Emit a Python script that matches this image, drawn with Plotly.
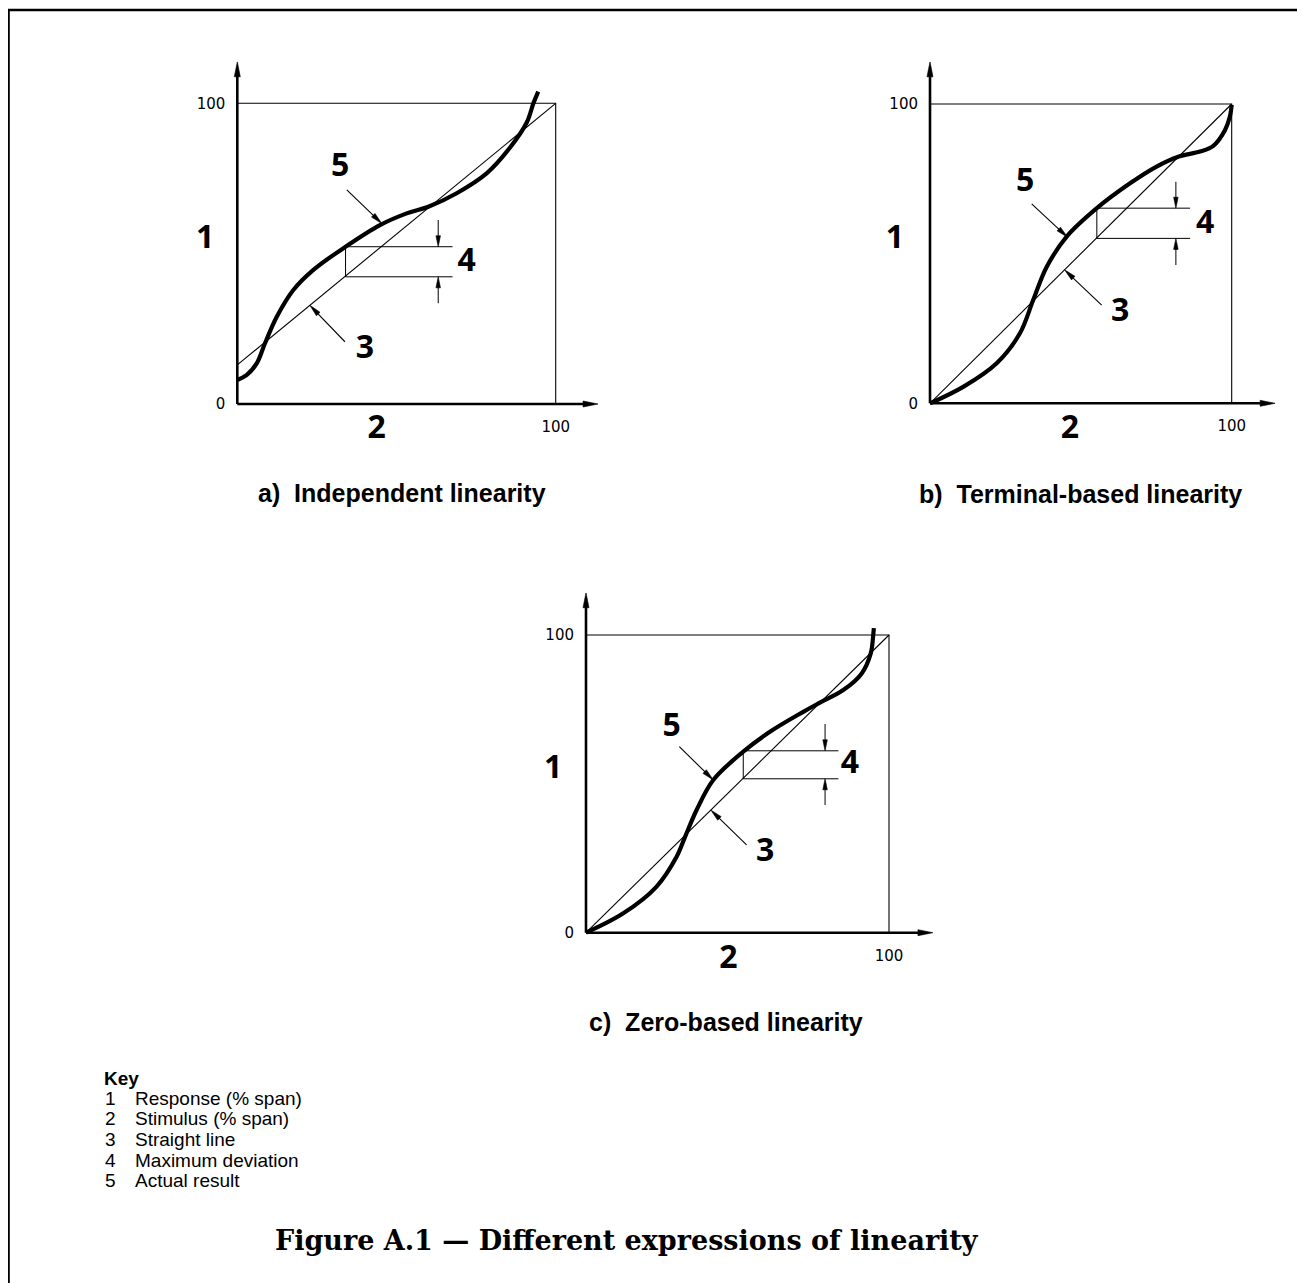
import math
import plotly.graph_objects as go

W, H = 1305, 1283      # reference picture size
OFF = 8                # browser body margin of the page
FW, FH = W - OFF, H - OFF

# ---------------- data ----------------
label_text = ["1", "2", "3", "4", "5"]
y_tick_vals = [0, 100]
y_tick_text = ["0", "100"]
x_tick_vals = [100]
x_tick_text = ["100"]

box_x = [0, 100, 100]
box_y = [100, 100, 0]

# panel a) Independent linearity
a_line_x = [0, 100]
a_line_y = [13, 100]
a_curve_x = [0, 2.9, 6.1, 8.7, 12.4, 17.6, 23.9, 34.0, 44.8, 53.2, 60.0, 68.9, 78.3, 85.6, 90.9, 93.0, 94.5]
a_curve_y = [8.0, 9.6, 13.5, 20.2, 29.0, 37.9, 44.6, 52.3, 59.5, 63.4, 65.6, 70.1, 76.7, 85.2, 93.6, 100, 103.9]
a_dev_x = [67.6, 34.0, 34.0, 67.6]
a_dev_y = [52.3, 52.3, 42.3, 42.3]
a_dim_x = [63.1, 63.1, 63.1, 63.1]
a_dim_y = [61.2, 52.3, 33.5, 42.3]
a_lead_x = [34.4, 45.4, 33.8, 22.8]
a_lead_y = [71.2, 60.0, 20.7, 32.8]
a_label_x = [-10.1, 43.8, 40.1, 72.0, 32.3]
a_label_y = [54.5, -8.6, 18.0, 46.8, 78.4]

# panel b) Terminal-based linearity
b_line_x = [0, 100]
b_line_y = [0, 100]
b_curve_x = [0, 11.0, 22.1, 29.8, 34.2, 38.7, 45.3, 55.3, 66.3, 75.1, 82.3, 89.5, 93.9, 97.8, 99.4, 100]
b_curve_y = [0, 5.5, 13.4, 23.4, 34.5, 45.6, 55.7, 65.2, 73.5, 79.1, 82.4, 84.1, 86.0, 91.3, 95.8, 99.7]
b_dev_x = [86.2, 55.3, 55.3, 86.2]
b_dev_y = [65.2, 65.2, 55.1, 55.1]
b_dim_x = [81.5, 81.5, 81.5, 81.5]
b_dim_y = [74.0, 65.2, 46.2, 55.1]
b_lead_x = [33.7, 45.6, 56.9, 44.6]
b_lead_y = [66.6, 55.5, 32.8, 44.6]
b_label_x = [-11.6, 46.4, 63.0, 91.2, 31.5]
b_label_y = [54.6, -8.9, 30.1, 59.6, 73.5]

# panel c) Zero-based linearity
c_line_x = [0, 100]
c_line_y = [0, 100]
c_curve_x = [0, 12.3, 23.3, 29.9, 32.7, 36.5, 42.0, 51.9, 60.7, 71.7, 77.2, 84.9, 91.0, 94.0, 94.8, 95.0]
c_curve_y = [0, 6.5, 15.5, 25.5, 32.2, 41.2, 51.3, 60.8, 67.5, 74.2, 77.3, 81.5, 87.1, 93.9, 100, 102.3]
c_dev_x = [83.3, 51.9, 51.9, 83.3]
c_dev_y = [61.1, 61.1, 51.7, 51.7]
c_dim_x = [78.9, 78.9, 78.9, 78.9]
c_dim_y = [70.1, 61.1, 42.9, 51.7]
c_lead_x = [30.8, 42.0, 53.0, 41.2]
c_lead_y = [62.5, 51.3, 29.5, 41.2]
c_label_x = [-10.8, 47.0, 59.1, 87.1, 28.3]
c_label_y = [54.7, -9.2, 26.7, 56.3, 68.7]

titles = ["a)\u00a0 Independent linearity", "b)\u00a0 Terminal-based linearity", "c)\u00a0 Zero-based linearity"]
key_title = "Key"
key_nums = ["1", "2", "3", "4", "5"]
key_texts = ["Response (% span)", "Stimulus (% span)", "Straight line", "Maximum deviation", "Actual result"]
caption = "Figure A.1 \u2014 Different expressions of linearity"

# ---------------- layout (pixel anchors in reference picture) ----------------
XMIN, YMIN = -20, -14
panels = [
    dict(ox=237.3, oy=404.0, sx=3.184, sy=3.007, xmax=113.3, ymax=113.8,
         line=(a_line_x, a_line_y), curve=(a_curve_x, a_curve_y), dev=(a_dev_x, a_dev_y),
         dim=(a_dim_x, a_dim_y), lead=(a_lead_x, a_lead_y), lab=(a_label_x, a_label_y),
         title_px=(402, 493)),
    dict(ox=930.0, oy=403.3, sx=3.017, sy=2.993, xmax=114.4, ymax=114.1,
         line=(b_line_x, b_line_y), curve=(b_curve_x, b_curve_y), dev=(b_dev_x, b_dev_y),
         dim=(b_dim_x, b_dim_y), lead=(b_lead_x, b_lead_y), lab=(b_label_x, b_label_y),
         title_px=(1080, 494)),
    dict(ox=586.0, oy=932.7, sx=3.03, sy=2.977, xmax=114.5, ymax=114.2,
         line=(c_line_x, c_line_y), curve=(c_curve_x, c_curve_y), dev=(c_dev_x, c_dev_y),
         dim=(c_dim_x, c_dim_y), lead=(c_lead_x, c_lead_y), lab=(c_label_x, c_label_y),
         title_px=(726, 1022)),
]


def fx(px):
    return (px - OFF) / FW


def fy(py):
    return 1 - (py - OFF) / FH


TICK_FONT = dict(family="DejaVu Sans", size=15, color="black")
BIG_FONT = dict(family="Noto Sans, DejaVu Sans", size=32, color="black", weight="bold")
SANS = "Liberation Sans, Arial, sans-serif"

fig = go.Figure()


def line_trace(x, y, xa, ya, width, shape="linear"):
    fig.add_trace(go.Scatter(x=x, y=y, mode="lines", xaxis=xa, yaxis=ya,
                             line=dict(color="black", width=width, shape=shape, smoothing=1.0),
                             hoverinfo="skip", showlegend=False))


def arrow(p, xa, ya, tail, head, lw, hl, hw):
    tu, tv = tail
    hu, hv = head
    dxp = (hu - tu) * p["sx"]
    dyp = (hv - tv) * p["sy"]
    L = math.hypot(dxp, dyp)
    ux, uy = dxp / L, dyp / L
    bu = hu - ux * hl / p["sx"]
    bv = hv - uy * hl / p["sy"]
    pu = -uy * hw / 2 / p["sx"]
    pv = ux * hw / 2 / p["sy"]
    line_trace([tu, hu - ux * hl * 0.6 / p["sx"]], [tv, hv - uy * hl * 0.6 / p["sy"]], xa, ya, lw)
    fig.add_trace(go.Scatter(x=[hu, bu + pu, bu - pu, hu], y=[hv, bv + pv, bv - pv, hv],
                             mode="lines", fill="toself", fillcolor="black",
                             line=dict(color="black", width=0.6), xaxis=xa, yaxis=ya,
                             hoverinfo="skip", showlegend=False))


layout_axes = {}
annotations = []
for i, p in enumerate(panels):
    n = "" if i == 0 else str(i + 1)
    xa, ya = "x" + n, "y" + n
    xd = [fx(p["ox"] + XMIN * p["sx"]), fx(p["ox"] + p["xmax"] * p["sx"])]
    yd = [fy(p["oy"] - YMIN * p["sy"]), fy(p["oy"] - p["ymax"] * p["sy"])]
    layout_axes["xaxis" + n] = dict(domain=xd, range=[XMIN, p["xmax"]], anchor="free",
                                    position=fy(p["oy"]), tickvals=x_tick_vals, ticktext=x_tick_text,
                                    ticks="outside", ticklen=9, tickcolor="rgba(0,0,0,0)",
                                    showgrid=False, zeroline=False, showline=False,
                                    tickfont=TICK_FONT, fixedrange=True)
    layout_axes["yaxis" + n] = dict(domain=yd, range=[YMIN, p["ymax"]], anchor="free",
                                    position=fx(p["ox"]), tickvals=y_tick_vals, ticktext=y_tick_text,
                                    ticks="outside", ticklen=9, tickcolor="rgba(0,0,0,0)",
                                    showgrid=False, zeroline=False, showline=False,
                                    tickfont=TICK_FONT, fixedrange=True)

    # 100 % box and straight line
    line_trace(box_x, box_y, xa, ya, 1.1)
    line_trace(p["line"][0], p["line"][1], xa, ya, 1.1)
    # max deviation construction
    line_trace(p["dev"][0], p["dev"][1], xa, ya, 1.0)
    # actual result curve
    line_trace(p["curve"][0], p["curve"][1], xa, ya, 4.2, shape="spline")
    # axes with arrowheads
    arrow(p, xa, ya, (0, 0), (p["xmax"], 0), 2.6, 15, 6)
    arrow(p, xa, ya, (0, 0), (0, p["ymax"]), 2.6, 15, 6)
    # dimension arrows
    dx, dy = p["dim"]
    arrow(p, xa, ya, (dx[0], dy[0]), (dx[1], dy[1]), 1.0, 11, 4.5)
    arrow(p, xa, ya, (dx[2], dy[2]), (dx[3], dy[3]), 1.0, 11, 4.5)
    # leader arrows
    lx, ly = p["lead"]
    arrow(p, xa, ya, (lx[0], ly[0]), (lx[1], ly[1]), 1.1, 12, 5)
    arrow(p, xa, ya, (lx[2], ly[2]), (lx[3], ly[3]), 1.1, 12, 5)
    # labels 1..5
    fig.add_trace(go.Scatter(x=p["lab"][0], y=p["lab"][1], text=label_text, mode="text",
                             textposition="middle center", textfont=BIG_FONT, cliponaxis=False,
                             xaxis=xa, yaxis=ya, hoverinfo="skip", showlegend=False))
    # title
    tx, ty = p["title_px"]
    annotations.append(dict(text=titles[i], x=fx(tx), y=fy(ty), xref="paper", yref="paper",
                            showarrow=False, xanchor="center", yanchor="middle",
                            font=dict(family=SANS, size=25, color="black", weight="bold")))

# key
annotations.append(dict(text=key_title, x=fx(102), y=fy(1078), xref="paper", yref="paper",
                        showarrow=False, xanchor="left", yanchor="middle",
                        font=dict(family=SANS, size=19, color="black", weight="bold")))
for k, (num, txt) in enumerate(zip(key_nums, key_texts)):
    yy = 1098 + k * 20.7
    annotations.append(dict(text=num, x=fx(103), y=fy(yy), xref="paper", yref="paper",
                            showarrow=False, xanchor="left", yanchor="middle",
                            font=dict(family=SANS, size=19, color="black")))
    annotations.append(dict(text=txt, x=fx(133), y=fy(yy), xref="paper", yref="paper",
                            showarrow=False, xanchor="left", yanchor="middle",
                            font=dict(family=SANS, size=19, color="black")))

# caption
annotations.append(dict(text=caption, x=fx(627), y=fy(1240), xref="paper", yref="paper",
                        showarrow=False, xanchor="center", yanchor="middle",
                        font=dict(family="DejaVu Serif", size=27, color="black", weight="bold")))

# outer frame (left and top edges)
shapes = [dict(type="path", xref="paper", yref="paper",
               path=f"M {fx(8.5)},0 L {fx(8.5)},{fy(10)} L 1,{fy(10)}",
               line=dict(color="black", width=2.6))]

fig.update_layout(width=FW, height=FH, margin=dict(l=0, r=0, t=0, b=0),
                  paper_bgcolor="white", plot_bgcolor="rgba(0,0,0,0)",
                  showlegend=False, hovermode=False,
                  annotations=annotations, shapes=shapes, **layout_axes)

fig.write_html("out.html", config={"displayModeBar": False})
